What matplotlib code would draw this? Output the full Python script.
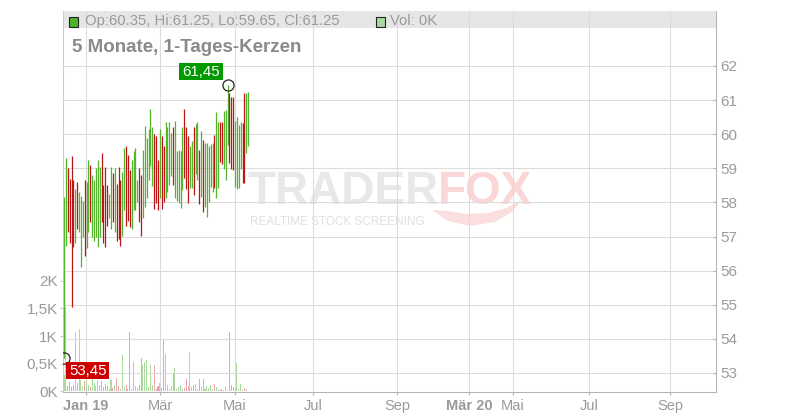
import matplotlib
matplotlib.use("Agg")
import matplotlib.pyplot as plt
from matplotlib.patches import Rectangle, Polygon
from matplotlib.path import Path
import numpy as np

plt.rcParams['font.family'] = ['Liberation Sans', 'DejaVu Sans']

# ---------------- data ----------------
highs = [58.17, 59.30, 59.01, 58.69, 59.36, 58.66, 58.40, 58.61, 58.31, 58.19,
         58.05, 58.66, 58.60, 59.25, 59.09, 58.81, 58.66, 59.01, 59.25, 59.03,
         59.44, 58.51, 59.03, 58.51, 58.25, 59.03, 58.86, 59.01, 58.54, 59.03,
         58.66, 58.89, 59.60, 59.66, 59.39, 58.95, 59.25, 59.51, 59.60, 58.66,
         59.01, 58.81, 59.54, 60.24, 59.89, 60.16, 60.74, 60.21, 60.01, 59.95,
         59.25, 60.16, 59.95, 59.66, 60.36, 60.21, 60.36, 60.04, 60.21, 60.39,
         59.51, 59.54, 59.51, 60.21, 60.74, 60.21, 59.95, 59.66, 59.80, 60.21,
         60.30, 60.36, 59.54, 60.10, 59.83, 59.74, 59.74, 59.66, 59.72, 59.74,
         59.98, 60.65, 60.36, 60.36, 60.36, 60.69, 60.71, 61.45, 61.20, 61.08,
         61.10, 60.40, 60.50, 60.27, 60.37, 60.32, 61.22, 61.22, 61.25]
lows = [53.45, 56.73, 57.14, 56.80, 54.94, 56.69, 56.80, 57.23, 57.14, 56.12,
        56.98, 56.44, 56.65, 57.14, 57.44, 57.00, 56.88, 56.98, 56.69, 56.98,
        57.44, 56.82, 56.69, 57.32, 57.53, 57.23, 57.42, 57.14, 56.88, 56.93,
        56.73, 57.03, 57.78, 57.32, 57.47, 57.29, 57.23, 57.78, 57.78, 58.02,
        57.44, 57.03, 57.53, 57.88, 58.14, 58.66, 59.07, 58.48, 57.81, 57.98,
        57.78, 58.14, 57.81, 58.02, 58.14, 58.32, 58.51, 58.78, 58.51, 58.14,
        58.05, 57.99, 57.83, 58.37, 58.72, 58.40, 57.99, 58.43, 58.43, 58.22,
        58.84, 58.66, 57.94, 58.17, 57.73, 57.88, 57.58, 58.02, 58.46, 58.32,
        58.43, 58.14, 58.43, 59.18, 59.13, 58.97, 58.66, 59.69, 59.17, 58.99,
        58.95, 58.46, 58.39, 58.43, 58.98, 58.58, 58.58, 59.44, 59.65]
# u = rising candle (green), d = falling candle (red)
directions = ("uudddduduu" "uduuduuuuu" "dddduududd" "duuddduuuu" "dduuuuuudd"
              "dudduuuudu" "uuuuddduud" "uududuuuuu" "duudduuudd" "duuuudduu")
volumes_k = [0.30, 1.52, 0.10, 0.17, 0.08, 0.12, 1.08, 0.15, 1.12, 0.20,
             0.10, 0.18, 0.22, 0.12, 0.08, 0.25, 0.15, 0.10, 0.20, 0.12,
             0.18, 0.08, 0.14, 0.10, 0.05, 0.20, 0.06, 0.12, 0.24, 0.10,
             0.05, 0.65, 0.08, 0.12, 0.04, 1.08, 0.05, 0.54, 0.10, 0.06,
             0.12, 0.61, 0.47, 0.54, 0.56, 0.08, 0.48, 0.12, 0.48, 0.05,
             0.10, 0.15, 0.06, 0.93, 0.68, 0.12, 0.05, 0.10, 0.34, 0.43,
             0.04, 0.08, 0.12, 0.05, 0.06, 0.22, 0.10, 0.72, 0.08, 0.12,
             0.14, 0.05, 0.22, 0.08, 0.22, 0.04, 0.10, 0.06, 0.12, 0.05,
             0.14, 0.08, 0.04, 0.03, 0.05, 0.02, 0.10, 0.03, 1.08, 0.12,
             0.08, 0.04, 0.52, 0.05, 0.13, 0.03, 0.06, 0.05, 0.00]
last_ohlc = [60.35, 61.25, 59.65, 61.25]

# x axis: trading-day index; tick positions on that ordinal scale
x_tick_pos = [11.7, 51.1, 91.0, 132.4, 177.1, 215.4, 238.8, 279.3, 322.3]
x_tick_labels = ["Jan 19", "Mär", "Mai", "Jul", "Sep", "Mär 20", "Mai", "Jul", "Sep"]
bold_labels = ["Jan 19", "Mär 20"]
price_ticks = [53, 54, 55, 56, 57, 58, 59, 60, 61, 62]
vol_ticks = [0, 0.5, 1, 1.5, 2]
vol_tick_labels = ["0K", "0,5K", "1K", "1,5K", "2K"]
title = "5 Monate, 1-Tages-Kerzen"

# ---------------- styling ----------------
GREEN = "#52b52c"
RED = "#bd1414"
PALE_GREEN = "#a9dc9c"
PALE_RED = "#eda3ab"
GRID = "#dcdcdc"
LABEL = "#9a9a9a"

fig = plt.figure(figsize=(8, 4.2), dpi=100)
fig.patch.set_facecolor("white")
L, B, W, H = 63 / 800, 1 - 392 / 420, (716 - 63) / 800, (392 - 11) / 420
ax_v = fig.add_axes([L, B, W, H])
ax_p = ax_v.twinx()

x = np.arange(len(highs))
up = np.array([c == "u" for c in directions])

# volume
ax_v.bar(x, volumes_k, width=0.55, color=[PALE_GREEN if u else PALE_RED for u in up],
         linewidth=0, zorder=2)
ax_v.set_xlim(-0.53, 346.8)
ax_v.set_ylim(-0.01, 6.87)
ax_v.set_yticks(vol_ticks)
ax_v.set_yticklabels(vol_tick_labels)
ax_v.set_xticks(x_tick_pos)
ax_v.set_xticklabels(x_tick_labels)
for t in ax_v.get_xticklabels():
    if t.get_text() in bold_labels:
        t.set_fontweight("bold")
        t.set_color("#8c8c8c")
ax_v.grid(axis="x", color=GRID, linewidth=0.75)
ax_v.set_axisbelow(True)
ax_v.tick_params(axis="x", direction="out", length=2.2, color="#b4b4b4",
                 labelsize=10.5, labelcolor=LABEL, pad=3)
ax_v.tick_params(axis="y", direction="out", length=2.2, color="#cccccc",
                 labelsize=11, labelcolor=LABEL, pad=1.5)
for s in ["top", "right"]:
    ax_v.spines[s].set_visible(False)
ax_v.spines["left"].set_color("#cccccc")
ax_v.spines["left"].set_linewidth(0.75)
ax_v.spines["bottom"].set_color("#b4b4b4")
ax_v.spines["bottom"].set_linewidth(0.75)

# header bar (under grid)
ax_v.add_patch(Rectangle((0, (392 - 28) / 381), 1, 17 / 381, transform=ax_v.transAxes,
                         facecolor="#e6e6e6", edgecolor="none", zorder=0.3))

# watermark
ax_v.text(247 / 800, 1 - 204 / 420, "TRADER", transform=fig.transFigure, fontsize=33,
          fontweight="bold", color="#e8e8e8", va="baseline", ha="left", zorder=0.2)
ax_v.text(438 / 800, 1 - 204 / 420, "FOX", transform=fig.transFigure, fontsize=33,
          fontweight="bold", color="#fad6d6", va="baseline", ha="left", zorder=0.2)
ax_v.text(250 / 800, 1 - 222 / 420, "REALTIME STOCK SCREENING", transform=fig.transFigure,
          fontsize=8.5, color="#e0e0e0", va="center", ha="left", zorder=0.2)
tail = [(432, 210), (448, 221), (470, 226), (495, 222), (512, 212), (522, 200),
        (506, 208), (488, 213), (466, 214), (448, 211)]
ax_v.add_patch(Polygon([(px / 800, 1 - py / 420) for px, py in tail], closed=True,
                       transform=fig.transFigure, facecolor="#fbdede", edgecolor="none",
                       zorder=0.2))

# price candles
ax_p.vlines(x, lows, highs, colors=[GREEN if u else RED for u in up], linewidth=0.9, zorder=3)
ax_p.set_ylim(52.443, 63.612)
ax_p.set_yticks(price_ticks)
ax_p.set_yticklabels([str(p) for p in price_ticks])
ax_p.grid(axis="y", color=GRID, linewidth=0.75)
ax_p.set_axisbelow(True)
ax_p.tick_params(axis="y", direction="in", length=2.2, color="#b4b4b4",
                 labelsize=11, labelcolor=LABEL, pad=3)
for s in ["top", "left", "bottom"]:
    ax_p.spines[s].set_visible(False)
ax_p.spines["right"].set_color("#b4b4b4")
ax_p.spines["right"].set_linewidth(0.75)


def wide_box(x0, y0, width, height, mutation_size):
    px = 0.2 * mutation_size
    py = 0.1 * mutation_size
    xa, ya = x0 - px, y0 - py
    xb, yb = x0 + width + px, y0 + height + py
    return Path([(xa, ya), (xb, ya), (xb, yb), (xa, yb), (xa, ya)], closed=True)


imax = int(np.argmax(highs))
imin = int(np.argmin(lows))
for i, val, off, ha, va, col in [
        (imax, highs[imax], (-5.8, 4.3), "right", "bottom", "#009900"),
        (imin, lows[imin], (3.6, -4.3), "left", "top", "#cc0000")]:
    ax_p.plot(x[i], val, "o", ms=8, mfc="none", mec="#222222", mew=0.9, zorder=5)
    ax_p.annotate(f"{val:.2f}".replace(".", ","), xy=(x[i], val), xytext=off,
                  textcoords="offset points", ha=ha, va=va, fontsize=10.8, color="white",
                  bbox=dict(boxstyle=wide_box, facecolor=col, edgecolor="none"), zorder=6)

# header texts
fig.add_artist(Rectangle((68.5 / 800, 1 - 26.5 / 420), 9.5 / 800, 9.5 / 420,
                         transform=fig.transFigure, facecolor="#4cb32a",
                         edgecolor="#222222", linewidth=0.8))
o, h, l, c = last_ohlc
fig.text(85 / 800, 1 - 21 / 420, f"Op:{o:.2f}, Hi:{h:.2f}, Lo:{l:.2f}, Cl:{c:.2f}",
         fontsize=10.7, color=LABEL, va="center", ha="left")
fig.add_artist(Rectangle((375.5 / 800, 1 - 26.5 / 420), 9.5 / 800, 9.5 / 420,
                         transform=fig.transFigure, facecolor="#a8d9a0",
                         edgecolor="#222222", linewidth=0.8))
fig.text(390 / 800, 1 - 21 / 420, f"Vol: {volumes_k[-1]:.0f}K",
         fontsize=10.7, color=LABEL, va="center", ha="left")
fig.text(72 / 800, 1 - 47 / 420, title, fontsize=13.5, fontweight="bold",
         color="#8a8a8a", va="center", ha="left")

fig.savefig("out.png", dpi=100, facecolor="white")
